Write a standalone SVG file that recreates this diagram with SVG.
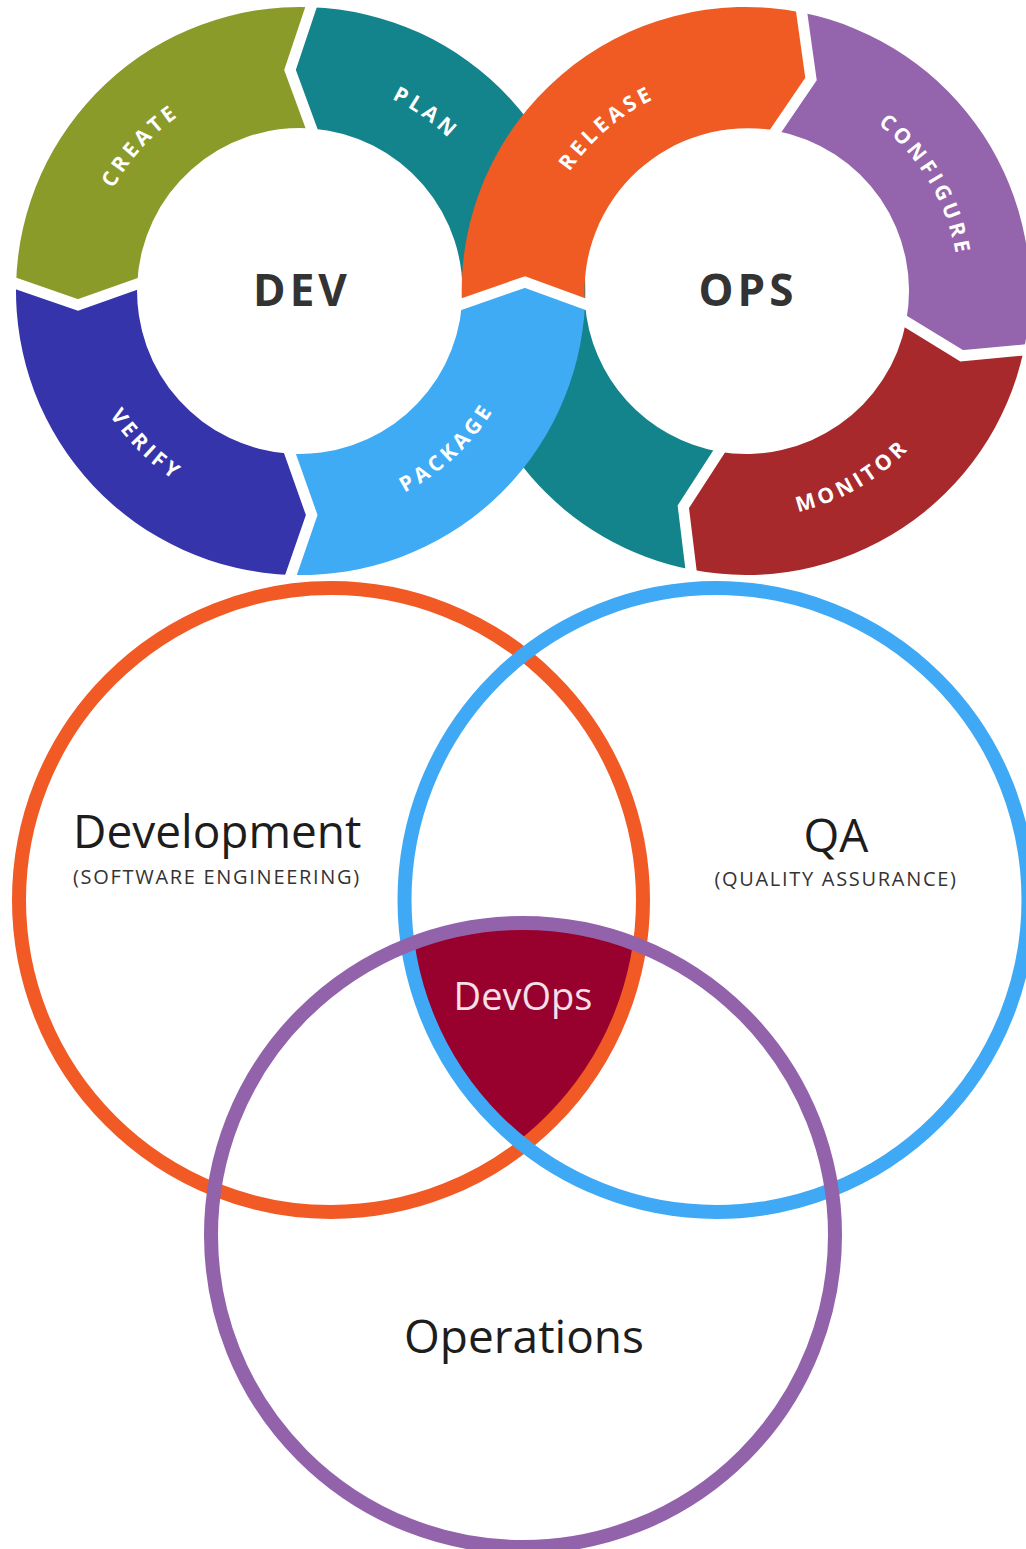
<svg xmlns="http://www.w3.org/2000/svg" width="1026" height="1549" viewBox="0 0 1026 1549">
  <style>
    .lbl { font-family: "Open Sans", "Liberation Sans", sans-serif; font-weight: 700; font-size: 21px; fill: #ffffff; letter-spacing: 4px; }
    .hub { font-family: "Open Sans", "Liberation Sans", sans-serif; font-weight: 700; font-size: 44px; fill: #333333; letter-spacing: 4px; }
    .gap { fill: none; stroke: #ffffff; stroke-width: 11; stroke-linejoin: miter; stroke-linecap: square; }
    .big { font-family: "Open Sans", "Liberation Sans", sans-serif; font-size: 46px; fill: #1d1d1d; }
    .sub { font-family: "Open Sans", "Liberation Sans", sans-serif; font-size: 20px; fill: #333333; letter-spacing: 1.7px; }
    .ring { fill: none; stroke-width: 14; }
  </style>
  <defs>
    <path id="pCreate" d="M97.1,355.8 A213,213 0 0 1 345.4,82.9"/>
    <path id="pPlan" d="M211,97.5 A213,213 0 0 1 512.1,310.7"/>
    <path id="pVerify" d="M80.7,232.2 A227,227 0 0 0 358.8,510.3"/>
    <path id="pPackage" d="M234,508.2 A227,227 0 0 0 521.1,239.5"/>
    <path id="pRelease" d="M536.6,329.8 A213,213 0 0 1 817.1,90.2"/>
    <path id="pConfigure" d="M744.5,78 A213,213 0 0 1 931.2,396.2"/>
    <path id="pMonitor" d="M631.8,487.2 A227,227 0 0 0 973,291.8"/>
    <clipPath id="clipDev"><circle cx="331" cy="900" r="312"/></clipPath>
    <clipPath id="clipQa"><circle cx="716.5" cy="900" r="312"/></clipPath>
  </defs>
  <rect width="1026" height="1549" fill="#ffffff"/>

  <!-- DevOps loop -->
  <g id="plan">
    <path d="M311,7.2 A284,284 0 0 1 585,304 L525,282 L462,304 A163,163 0 0 0 311.5,128.4 L290,70 Z" fill="#13848c"/>
  </g>
  <g id="ops-return">
    <path d="M691,569.6 A284,284 0 0 1 462,304 L525,282 L585,304 A163,163 0 0 0 719,451.7 L683.3,506.7 Z" fill="#13848c"/>
  </g>
  <g id="create">
    <path d="M311,7.2 A284,284 0 0 0 16.1,283.5 L78,305 L137.2,284 A163,163 0 0 1 311.5,128.4 L290,70 Z" fill="#8b9b29"/>
  </g>
  <g id="verify">
    <path d="M16.1,283.5 A284,284 0 0 0 291,574.9 L311.7,515 L290,453.7 A163,163 0 0 1 137.2,284 L78,305 Z" fill="#3534aa"/>
  </g>
  <g id="configure">
    <path d="M801.7,12.5 A284,284 0 0 1 1023.8,350 L961.7,355.8 L906.1,321.7 A163,163 0 0 0 775.8,130.7 L811,79 Z" fill="#9464ac"/>
  </g>
  <g id="monitor">
    <path d="M1023.8,350 A284,284 0 0 1 691,569.6 L683.3,506.7 L719,451.7 A163,163 0 0 0 906.1,321.7 L961.7,355.8 Z" fill="#a7292b"/>
  </g>
  <g id="release">
    <path d="M462,304 A284,284 0 0 1 801.7,12.5 L811,79 L775.8,130.7 A163,163 0 0 0 585,304 L525,282 Z" fill="#ef5b22"/>
  </g>
  <g id="package">
    <path d="M291,574.9 A284,284 0 0 0 585,304 L525,282 L462,304 A163,163 0 0 1 290,453.7 L311.7,515 Z" fill="#3fabf5"/>
  </g>

  <g id="connectors">
    <polyline class="gap" points="311,7.2 290,70 311.5,128.4"/>
    <polyline class="gap" points="16.1,283.5 78,305 137.2,284"/>
    <polyline class="gap" points="291,574.9 311.7,515 290,453.7"/>
    <polyline class="gap" points="462,304 525,282 585,304"/>
    <polyline class="gap" points="801.7,12.5 811,79 775.8,130.7"/>
    <polyline class="gap" points="1023.8,350 961.7,355.8 906.1,321.7"/>
    <polyline class="gap" points="691,569.6 683.3,506.7 719,451.7"/>
  </g>

  <g id="labels">
    <text class="lbl"><textPath href="#pCreate" startOffset="50%" text-anchor="middle">CREATE</textPath></text>
    <text class="lbl"><textPath href="#pPlan" startOffset="50%" text-anchor="middle">PLAN</textPath></text>
    <text class="lbl"><textPath href="#pVerify" startOffset="50%" text-anchor="middle">VERIFY</textPath></text>
    <text class="lbl"><textPath href="#pPackage" startOffset="50%" text-anchor="middle">PACKAGE</textPath></text>
    <text class="lbl"><textPath href="#pRelease" startOffset="50%" text-anchor="middle">RELEASE</textPath></text>
    <text class="lbl"><textPath href="#pConfigure" startOffset="50%" text-anchor="middle">CONFIGURE</textPath></text>
    <text class="lbl"><textPath href="#pMonitor" startOffset="50%" text-anchor="middle">MONITOR</textPath></text>
  </g>

  <g id="dev-hub"><text class="hub" x="302" y="306" text-anchor="middle">DEV</text></g>
  <g id="ops-hub"><text class="hub" x="748" y="306" text-anchor="middle">OPS</text></g>

  <!-- Venn -->
  <g id="devops">
    <g clip-path="url(#clipDev)">
      <g clip-path="url(#clipQa)">
        <circle cx="523" cy="1235" r="312" fill="#98002e"/>
      </g>
    </g>
    <text x="523" y="1010" text-anchor="middle" font-family="'Open Sans', 'Liberation Sans', sans-serif" font-size="38" fill="#f3e0e8">DevOps</text>
  </g>
  <g id="development">
    <circle class="ring" cx="331" cy="900" r="312" stroke="#f15a24"/>
    <text class="big" x="73" y="848">Development</text>
    <text class="sub" x="73" y="884">(SOFTWARE ENGINEERING)</text>
  </g>
  <g id="qa">
    <circle class="ring" cx="716.5" cy="900" r="312" stroke="#3fa9f5"/>
    <text class="big" x="836" y="852" text-anchor="middle">QA</text>
    <text class="sub" x="836" y="886" text-anchor="middle">(QUALITY ASSURANCE)</text>
  </g>
  <g id="operations">
    <circle class="ring" cx="523" cy="1235" r="312" stroke="#9263ab"/>
    <text class="big" x="524" y="1353" text-anchor="middle">Operations</text>
  </g>
</svg>
